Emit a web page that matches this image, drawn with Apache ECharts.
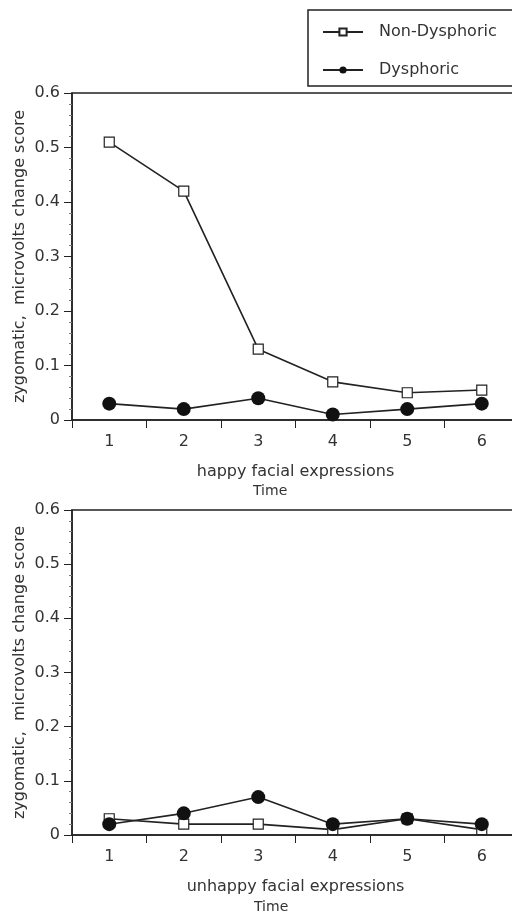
<!DOCTYPE html>
<html>
<head>
<meta charset="utf-8">
<script src="https://cdn.jsdelivr.net/npm/echarts@6/dist/echarts.min.js"></script>
<style>
  html, body { margin: 0; padding: 0; background: #fff; }
  #chart { width: 512px; height: 916px; }
</style>
</head>
<body>
<div id="chart"></div>
<script>
// Time points along the x axis
const timePoints = ['1', '2', '3', '4', '5', '6'];

// Zygomatic change scores (microvolts), happy facial expressions
const happyNonDysphoric = [0.51, 0.42, 0.13, 0.07, 0.05, 0.055];
const happyDysphoric = [0.03, 0.02, 0.04, 0.01, 0.02, 0.03];

// Zygomatic change scores (microvolts), unhappy facial expressions
const unhappyNonDysphoric = [0.03, 0.02, 0.02, 0.01, 0.03, 0.01];
const unhappyDysphoric = [0.02, 0.04, 0.07, 0.02, 0.03, 0.02];

const groupNames = ['Non-Dysphoric', 'Dysphoric'];
const panelTitles = ['happy facial expressions', 'unhappy facial expressions'];
const yAxisTitle = 'zygomatic,  microvolts change score';

const FONT = 'DejaVu Sans';
const INK = '#222';
const TEXT = '#333';

const chart = echarts.init(document.getElementById('chart'), null, { renderer: 'canvas' });

// The plotting area runs past the right edge of the page, so its right border is not seen
function makeGrid(top, height) {
  return {
    left: 72, width: 447, top: top, height: height,
    outerBoundsMode: 'none', containLabel: false,
    show: true, borderColor: INK, borderWidth: 1.5, backgroundColor: 'transparent'
  };
}

function makeXAxis(gridIndex, title) {
  return {
    type: 'category', gridIndex: gridIndex, data: timePoints, boundaryGap: true,
    name: title, nameLocation: 'middle', nameGap: 44, nameMoveOverlap: false,
    nameTextStyle: { fontFamily: FONT, fontSize: 16, color: TEXT },
    axisLine: { lineStyle: { color: INK, width: 1.5 } },
    axisTick: { show: true, interval: 0, length: 8, lineStyle: { color: INK, width: 1 } },
    axisLabel: { margin: 14, fontFamily: FONT, fontSize: 16, color: TEXT },
    splitLine: { show: false }
  };
}

function makeYAxis(gridIndex) {
  return {
    type: 'value', gridIndex: gridIndex, min: 0, max: 0.6, interval: 0.1,
    name: yAxisTitle, nameLocation: 'middle', nameRotate: 90, nameGap: 44, nameMoveOverlap: false,
    nameTextStyle: { fontFamily: FONT, fontSize: 16, color: TEXT },
    axisLine: { show: true, lineStyle: { color: INK, width: 1.5 } },
    axisTick: { show: true, length: 8, lineStyle: { color: INK, width: 1 } },
    minorTick: { show: true, splitNumber: 5, length: 3, lineStyle: { color: '#777', width: 1 } },
    axisLabel: {
      margin: 12, fontFamily: FONT, fontSize: 16, color: TEXT,
      formatter: v => (v === 0 ? '0' : v.toFixed(1))
    },
    splitLine: { show: false }
  };
}

function nonDysSeries(idx, data) {
  return {
    name: groupNames[0], type: 'line', xAxisIndex: idx, yAxisIndex: idx, data: data,
    symbol: 'rect', symbolSize: 10, z: 2,
    lineStyle: { color: INK, width: 1.6 },
    itemStyle: { color: '#fff', borderColor: INK, borderWidth: 1.2 }
  };
}

function dysSeries(idx, data) {
  return {
    name: groupNames[1], type: 'line', xAxisIndex: idx, yAxisIndex: idx, data: data,
    symbol: 'circle', symbolSize: 14, z: 3,
    lineStyle: { color: INK, width: 1.6 },
    itemStyle: { color: '#111', borderColor: '#111', borderWidth: 0 }
  };
}

chart.setOption({
  animation: false,
  backgroundColor: '#fff',
  grid: [makeGrid(93, 327), makeGrid(510, 325)],
  xAxis: [makeXAxis(0, panelTitles[0]), makeXAxis(1, panelTitles[1])],
  yAxis: [makeYAxis(0), makeYAxis(1)],
  legend: {
    data: groupNames,
    orient: 'vertical', left: 308, top: 10,
    padding: [14, 40, 8, 14], itemGap: 22,
    itemWidth: 40, itemHeight: 9,
    borderColor: INK, borderWidth: 1.5,
    selectedMode: false,
    textStyle: { fontFamily: FONT, fontSize: 16, color: TEXT, padding: [0, 0, 0, 11] }
  },
  graphic: [
    { type: 'text', left: 253, top: 484, style: { text: 'Time', font: '14px "DejaVu Sans"', fill: TEXT } },
    { type: 'text', left: 254, top: 900, style: { text: 'Time', font: '14px "DejaVu Sans"', fill: TEXT } }
  ],
  series: [
    nonDysSeries(0, happyNonDysphoric),
    dysSeries(0, happyDysphoric),
    nonDysSeries(1, unhappyNonDysphoric),
    dysSeries(1, unhappyDysphoric)
  ]
});
</script>
</body>
</html>
